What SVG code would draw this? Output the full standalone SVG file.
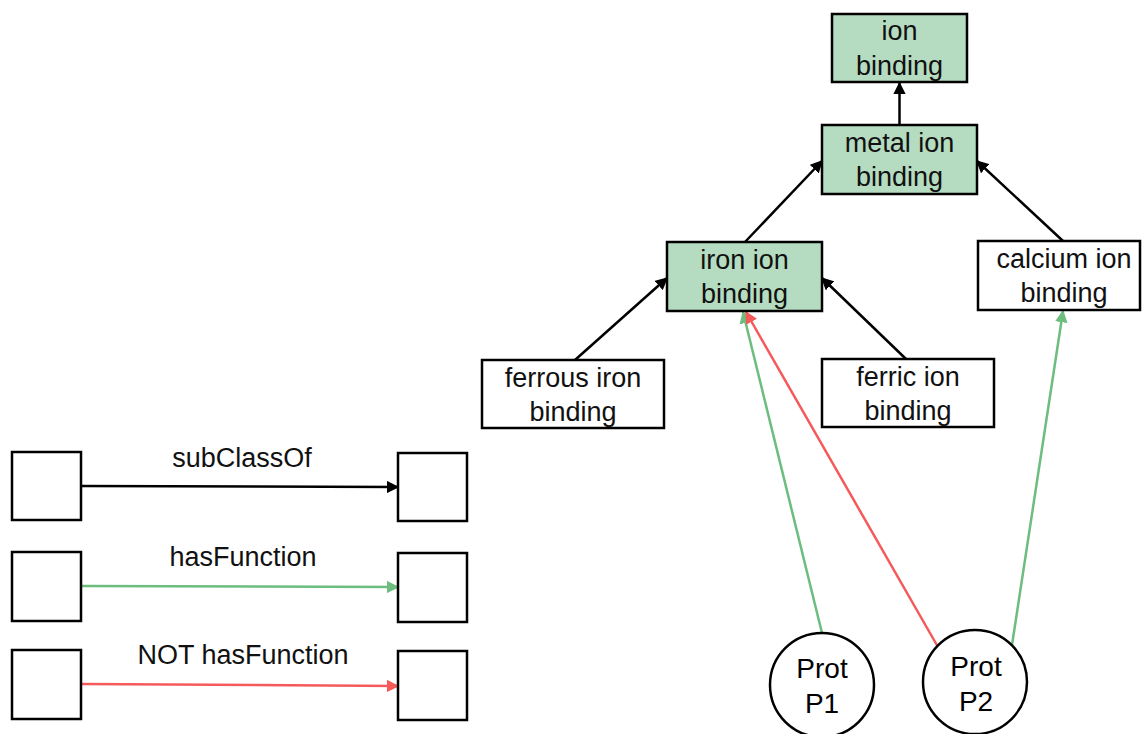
<svg xmlns="http://www.w3.org/2000/svg" width="1145" height="734" viewBox="0 0 1145 734">
  <style>
    .box { stroke: #000; stroke-width: 2.5; fill: #fff; }
    .hit { fill: #b5dcc0; }
    .lbl { font-family: "Liberation Sans", Arial, sans-serif; font-size: 27px; fill: #111; text-anchor: middle; }
    .prot { font-family: "Liberation Sans", Arial, sans-serif; font-size: 28px; fill: #000; text-anchor: middle; }
    .sub { stroke: #000; stroke-width: 2.5; fill: none; marker-end: url(#ahBlack); }
    .has { stroke: #6cbd7e; stroke-width: 2.5; fill: none; marker-end: url(#ahGreen); }
    .not { stroke: #f55a5a; stroke-width: 2.5; fill: none; marker-end: url(#ahRed); }
  </style>
  <defs>
    <marker id="ahBlack" viewBox="0 0 10 10" refX="9" refY="5" markerWidth="5" markerHeight="5" orient="auto" markerUnits="strokeWidth">
      <path d="M0,0 L10,5 L0,10 z" fill="#000"/>
    </marker>
    <marker id="ahGreen" viewBox="0 0 10 10" refX="9" refY="5" markerWidth="5" markerHeight="5" orient="auto" markerUnits="strokeWidth">
      <path d="M0,0 L10,5 L0,10 z" fill="#6cbd7e"/>
    </marker>
    <marker id="ahRed" viewBox="0 0 10 10" refX="9" refY="5" markerWidth="5" markerHeight="5" orient="auto" markerUnits="strokeWidth">
      <path d="M0,0 L10,5 L0,10 z" fill="#f55a5a"/>
    </marker>
  </defs>

  <rect width="1145" height="734" fill="#fff"/>

  <!-- connectors -->
  <g id="connectors">
    <line class="sub" x1="899.5" y1="125" x2="899.5" y2="83"/>
    <line class="sub" x1="745" y1="242" x2="822" y2="161"/>
    <line class="sub" x1="1063" y1="241" x2="977" y2="161"/>
    <line class="sub" x1="575" y1="360" x2="667" y2="278"/>
    <line class="sub" x1="906" y1="359" x2="822" y2="278"/>
    <line class="has" x1="822" y1="633" x2="743" y2="312"/>
    <line class="not" x1="938" y1="647" x2="746" y2="312"/>
    <line class="has" x1="1012" y1="645" x2="1063" y2="311"/>
    <!-- legend -->
    <line class="sub" x1="81" y1="486" x2="398" y2="487"/>
    <line class="has" x1="81" y1="586" x2="398" y2="587"/>
    <line class="not" x1="81" y1="684" x2="398" y2="686"/>
  </g>

  <g id="ion-binding">
    <rect class="box hit" x="832" y="14" width="135" height="68"/>
    <text class="lbl" x="899.5" y="40">ion</text>
    <text class="lbl" x="899.5" y="75">binding</text>
  </g>
  <g id="metal-ion-binding">
    <rect class="box hit" x="822" y="125" width="155" height="69"/>
    <text class="lbl" x="899.5" y="152">metal ion</text>
    <text class="lbl" x="899.5" y="186">binding</text>
  </g>
  <g id="iron-ion-binding">
    <rect class="box hit" x="667" y="242" width="155" height="69"/>
    <text class="lbl" x="744.5" y="269">iron ion</text>
    <text class="lbl" x="744.5" y="303">binding</text>
  </g>
  <g id="calcium-ion-binding">
    <rect class="box" x="978" y="241" width="162" height="69"/>
    <text class="lbl" x="1064" y="268">calcium ion</text>
    <text class="lbl" x="1064" y="302">binding</text>
  </g>
  <g id="ferrous-iron-binding">
    <rect class="box" x="482" y="360" width="182" height="68"/>
    <text class="lbl" x="573" y="387">ferrous iron</text>
    <text class="lbl" x="573" y="421">binding</text>
  </g>
  <g id="ferric-ion-binding">
    <rect class="box" x="822" y="359" width="172" height="68"/>
    <text class="lbl" x="908" y="386">ferric ion</text>
    <text class="lbl" x="908" y="420">binding</text>
  </g>
  <g id="prot-p1">
    <circle class="box" cx="822" cy="685" r="52"/>
    <text class="prot" x="822" y="678">Prot</text>
    <text class="prot" x="822" y="713">P1</text>
  </g>
  <g id="prot-p2">
    <circle class="box" cx="975" cy="682" r="52"/>
    <text class="prot" x="976" y="676">Prot</text>
    <text class="prot" x="976" y="711">P2</text>
  </g>

  <!-- legend -->
  <g id="legend">
    <rect class="box" x="12" y="452" width="69" height="68"/>
    <rect class="box" x="398" y="453" width="69" height="68"/>
    <rect class="box" x="12" y="552" width="69" height="69"/>
    <rect class="box" x="398" y="553" width="69" height="69"/>
    <rect class="box" x="12" y="650" width="69" height="69"/>
    <rect class="box" x="398" y="651" width="69" height="69"/>
    <text class="lbl" x="242" y="467">subClassOf</text>
    <text class="lbl" x="243" y="566">hasFunction</text>
    <text class="lbl" x="243" y="664">NOT hasFunction</text>
  </g>
</svg>
